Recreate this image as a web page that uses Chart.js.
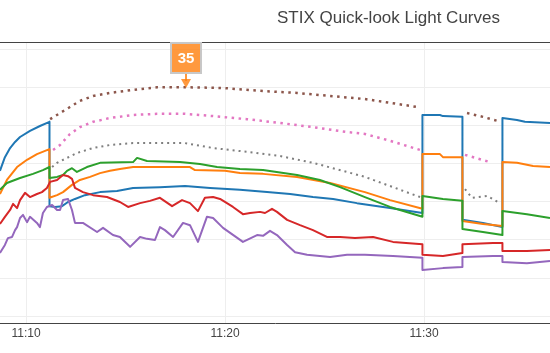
<!DOCTYPE html>
<html>
<head>
<meta charset="utf-8">
<title>STIX Quick-look Light Curves</title>
<script src="https://cdn.jsdelivr.net/npm/chart.js@4.4.1/dist/chart.umd.min.js"></script>
<style>
  html, body { margin: 0; padding: 0; background: #fff; }
  canvas { display: block; }
</style>
</head>
<body>
<canvas id="lcChart" width="550" height="353"></canvas>
<script>
// time = minutes after 11:00 UT, values = log10(counts)
const tickMinutes = [10, 20, 30];
const yGridLines = [0, 1, 2, 3, 4, 5, 6, 7];

const blueTime = [8.69, 8.94, 9.20, 9.45, 9.70, 10.20, 10.70, 11.18, 11.18, 11.46, 11.81, 12.11, 12.46, 12.96, 13.72, 14.57, 15.38, 16.73, 17.99, 19.25, 20.75, 22.11, 23.27, 24.42, 25.43, 26.63, 28.29, 29.92, 29.92, 30.80, 30.95, 31.93, 31.93, 32.96, 33.94, 33.94, 34.67, 35.07, 36.33];
const blueLog = [3.82, 4.18, 4.42, 4.58, 4.71, 4.87, 5.00, 5.11, 2.89, 2.87, 2.89, 3.00, 3.08, 3.18, 3.26, 3.29, 3.37, 3.39, 3.42, 3.37, 3.32, 3.26, 3.21, 3.13, 3.08, 2.97, 2.84, 2.71, 5.29, 5.29, 5.26, 5.24, 2.53, 2.45, 2.34, 5.21, 5.16, 5.11, 5.08];

const orangeTime = [8.69, 9.04, 9.55, 10.05, 10.55, 11.18, 11.18, 11.56, 11.86, 12.31, 12.71, 13.22, 13.72, 14.22, 14.72, 15.38, 18.24, 18.49, 20.00, 20.75, 21.91, 23.62, 25.28, 27.03, 28.29, 29.92, 29.92, 30.80, 30.95, 31.93, 31.93, 32.96, 33.94, 33.94, 34.67, 35.48, 36.33];
const orangeLog = [3.21, 3.58, 3.92, 4.11, 4.26, 4.39, 3.11, 3.18, 3.26, 3.45, 3.58, 3.66, 3.76, 3.82, 3.87, 3.92, 3.92, 3.84, 3.82, 3.76, 3.74, 3.66, 3.50, 3.26, 3.05, 2.82, 4.26, 4.26, 4.18, 4.18, 2.50, 2.42, 2.37, 4.05, 4.03, 3.95, 3.92];

const greenTime = [8.69, 9.04, 9.70, 10.35, 10.85, 11.18, 11.18, 11.56, 11.86, 12.06, 12.31, 12.56, 13.06, 13.72, 15.38, 15.58, 16.08, 17.74, 18.74, 19.60, 20.75, 21.91, 23.62, 24.77, 25.78, 27.03, 28.29, 29.92, 29.92, 30.95, 31.93, 31.93, 32.96, 33.94, 33.94, 35.17, 36.33];
const greenLog = [3.32, 3.50, 3.63, 3.74, 3.84, 3.92, 3.63, 3.66, 3.71, 3.82, 3.89, 3.79, 3.92, 4.03, 4.05, 4.16, 4.08, 4.05, 4.00, 3.92, 3.87, 3.84, 3.71, 3.58, 3.39, 3.13, 2.87, 2.61, 3.16, 3.08, 3.03, 2.29, 2.21, 2.13, 2.76, 2.68, 2.58];

const redTime = [8.69, 8.94, 9.20, 9.35, 9.55, 9.70, 9.95, 10.20, 10.55, 10.80, 11.05, 11.21, 11.56, 11.86, 12.11, 12.31, 12.46, 12.86, 13.37, 14.07, 14.72, 15.13, 15.73, 16.23, 16.73, 17.34, 17.84, 18.24, 18.64, 18.99, 19.40, 19.75, 20.40, 20.90, 21.26, 21.76, 22.01, 22.36, 22.61, 23.12, 23.77, 24.42, 25.12, 25.78, 26.53, 27.44, 28.44, 29.92, 29.92, 30.95, 31.93, 31.93, 33.47, 33.94, 33.94, 35.17, 36.33];
const redLog = [2.42, 2.61, 2.79, 2.95, 2.84, 3.05, 3.24, 3.13, 3.21, 3.26, 3.37, 3.53, 3.58, 3.71, 3.68, 3.61, 3.37, 3.26, 3.18, 3.13, 3.00, 2.87, 2.97, 3.03, 3.11, 2.89, 3.05, 2.97, 2.76, 3.11, 3.13, 3.08, 2.87, 2.68, 2.71, 2.74, 2.71, 2.82, 2.74, 2.53, 2.39, 2.26, 2.08, 2.08, 2.05, 2.08, 1.95, 1.89, 1.61, 1.58, 1.66, 1.89, 1.92, 1.92, 1.71, 1.71, 1.74];

const purpleTime = [8.69, 8.94, 9.09, 9.30, 9.45, 9.55, 9.70, 9.85, 10.05, 10.20, 10.55, 10.70, 10.85, 11.05, 11.31, 11.56, 11.71, 11.86, 12.11, 12.31, 12.46, 12.86, 13.57, 13.87, 14.37, 14.72, 15.23, 15.73, 16.08, 16.48, 16.73, 16.98, 17.39, 17.89, 18.24, 18.64, 19.09, 19.40, 19.90, 20.90, 21.61, 21.91, 22.26, 22.61, 23.12, 23.52, 24.12, 25.28, 26.13, 27.03, 28.44, 29.92, 29.92, 30.95, 31.93, 31.93, 33.47, 33.94, 33.94, 35.17, 36.33];
const purpleLog = [1.66, 1.87, 2.05, 2.08, 2.26, 2.34, 2.58, 2.66, 2.47, 2.61, 2.45, 2.34, 2.71, 2.87, 2.92, 2.79, 2.79, 3.05, 3.08, 2.79, 2.45, 2.45, 2.21, 2.32, 2.13, 2.08, 1.82, 2.08, 2.03, 2.00, 2.34, 2.26, 2.08, 2.45, 2.39, 1.95, 2.61, 2.58, 2.32, 1.95, 2.13, 2.11, 2.24, 2.13, 1.87, 1.68, 1.61, 1.55, 1.61, 1.61, 1.58, 1.53, 1.21, 1.26, 1.29, 1.55, 1.58, 1.58, 1.42, 1.39, 1.45];

// dotted traces, null = gap
const brownTime = [11.21, 11.71, 12.21, 12.71, 13.37, 14.22, 15.38, 16.58, 17.99, 19.90, 21.91, 23.62, 25.28, 27.03, 28.29, 29.65, 30.90, 32.16, 32.96, 33.72];
const brownLog = [5.18, 5.34, 5.50, 5.66, 5.79, 5.87, 5.95, 6.02, 6.02, 6.00, 5.92, 5.87, 5.79, 5.71, 5.61, 5.50, null, 5.34, 5.24, 5.13];

const pinkTime = [11.36, 11.71, 12.21, 12.71, 13.37, 14.22, 15.38, 16.58, 17.99, 19.40, 21.10, 22.76, 24.42, 26.13, 27.03, 28.29, 29.80, 30.90, 32.06, 33.32];
const pinkLog = [4.37, 4.50, 4.79, 4.97, 5.11, 5.21, 5.29, 5.32, 5.32, 5.26, 5.18, 5.08, 4.97, 4.84, 4.79, 4.61, 4.37, null, 4.24, 4.05];

const grayTime = [11.31, 11.56, 12.06, 12.56, 13.37, 14.22, 15.38, 16.58, 17.99, 19.40, 21.10, 22.76, 24.42, 26.13, 27.03, 28.29, 29.80, 30.90, 32.06, 32.41, 33.17, 33.72];
const grayLog = [3.92, 4.03, 4.16, 4.29, 4.42, 4.50, 4.55, 4.55, 4.55, 4.42, 4.32, 4.21, 4.03, 3.79, 3.66, 3.42, 3.13, null, 3.34, 3.11, 3.16, 3.00];

// the "35" marker sits on the brown curve
const markerText = "35";
const markerTime = 18.04;
const markerLog = 6.0;

function toPoints(times, vals) {
  return times.map((t, i) => ({ x: t, y: vals[i] }));
}

function solid(label, color, times, vals, order) {
  return {
    label: label,
    data: toPoints(times, vals),
    borderColor: color,
    borderWidth: 2,
    pointRadius: 0,
    tension: 0,
    borderJoinStyle: "round",
    spanGaps: false,
    order: order,
  };
}

function dotted(label, color, times, vals, width, dash, order) {
  const ds = solid(label, color, times, vals, order);
  ds.borderWidth = width;
  ds.borderDash = dash;
  ds.borderJoinStyle = "miter";
  return ds;
}

// draws the top frame line, the title and the orange marker
const extras = {
  id: "extras",
  afterDraw(chart) {
    const ctx = chart.ctx;
    const area = chart.chartArea;
    ctx.save();

    ctx.strokeStyle = "#444";
    ctx.lineWidth = 1;
    ctx.beginPath();
    ctx.moveTo(0, Math.round(area.top) + 0.5);
    ctx.lineTo(chart.width, Math.round(area.top) + 0.5);
    ctx.stroke();

    ctx.fillStyle = "#444";
    ctx.font = '17px "Liberation Sans", Arial, sans-serif';
    ctx.textAlign = "left";
    ctx.textBaseline = "alphabetic";
    ctx.fillText("STIX Quick-look Light Curves", 277, 23);

    const tipX = chart.scales.x.getPixelForValue(markerTime);
    const tipY = chart.scales.y.getPixelForValue(markerLog);
    const boxW = 30, boxH = 30;
    const boxBottom = tipY - 15;
    const orange = "rgba(255,127,14,0.8)";

    ctx.strokeStyle = orange;
    ctx.lineWidth = 2;
    ctx.beginPath();
    ctx.moveTo(tipX, boxBottom);
    ctx.lineTo(tipX, tipY - 7);
    ctx.stroke();
    ctx.fillStyle = orange;
    ctx.beginPath();
    ctx.moveTo(tipX, tipY);
    ctx.lineTo(tipX - 5, tipY - 9);
    ctx.lineTo(tipX + 5, tipY - 9);
    ctx.closePath();
    ctx.fill();

    ctx.fillStyle = orange;
    ctx.fillRect(tipX - boxW / 2, boxBottom - boxH, boxW, boxH);
    ctx.strokeStyle = "#c8c8c8";
    ctx.lineWidth = 2;
    ctx.strokeRect(tipX - boxW / 2, boxBottom - boxH, boxW, boxH);

    ctx.fillStyle = "#fff";
    ctx.font = 'bold 15px "Liberation Sans", Arial, sans-serif';
    ctx.textAlign = "center";
    ctx.textBaseline = "middle";
    ctx.fillText(markerText, tipX, boxBottom - boxH / 2 + 1);

    ctx.restore();
  },
};

new Chart(document.getElementById("lcChart"), {
  type: "line",
  data: {
    datasets: [
      solid("4-10 keV", "#1f77b4", blueTime, blueLog, 8),
      solid("10-15 keV", "#ff7f0e", orangeTime, orangeLog, 7),
      solid("15-25 keV", "#2ca02c", greenTime, greenLog, 6),
      solid("25-50 keV", "#d62728", redTime, redLog, 5),
      solid("50-84 keV", "#9467bd", purpleTime, purpleLog, 4),
      dotted("curve 6", "#8c564b", brownTime, brownLog, 2.5, [2.5, 4.5], 3),
      dotted("curve 7", "#e377c2", pinkTime, pinkLog, 2.5, [2.5, 4.5], 2),
      dotted("curve 8", "#7f7f7f", grayTime, grayLog, 2, [2, 4], 1),
    ],
  },
  options: {
    responsive: false,
    animation: false,
    devicePixelRatio: 1,
    layout: { padding: { top: 42, left: 0, right: 0, bottom: 0 } },
    plugins: {
      legend: { display: false },
      tooltip: { enabled: false },
      title: { display: false },
    },
    scales: {
      x: {
        type: "linear",
        min: 8.693,
        max: 36.33,
        grid: { color: "#eee", lineWidth: 1, drawTicks: false },
        border: { display: true, color: "#444", width: 1 },
        ticks: {
          color: "#444",
          font: { family: '"Liberation Sans", Arial, sans-serif', size: 12 },
          padding: 3,
          maxRotation: 0,
          autoSkip: false,
          callback: (v) => "11:" + String(v).padStart(2, "0"),
        },
        afterBuildTicks: (axis) => {
          axis.ticks = tickMinutes.map((v) => ({ value: v }));
        },
        afterFit: (axis) => {
          axis.height = 30;
        },
      },
      y: {
        type: "linear",
        min: -0.184,
        max: 7.21,
        grid: { color: "#eee", lineWidth: 1, drawTicks: false },
        border: { display: false },
        ticks: { display: false },
        afterBuildTicks: (axis) => {
          axis.ticks = yGridLines.map((v) => ({ value: v }));
        },
        afterFit: (axis) => {
          axis.width = 0;
        },
      },
    },
  },
  plugins: [extras],
});
</script>
</body>
</html>
